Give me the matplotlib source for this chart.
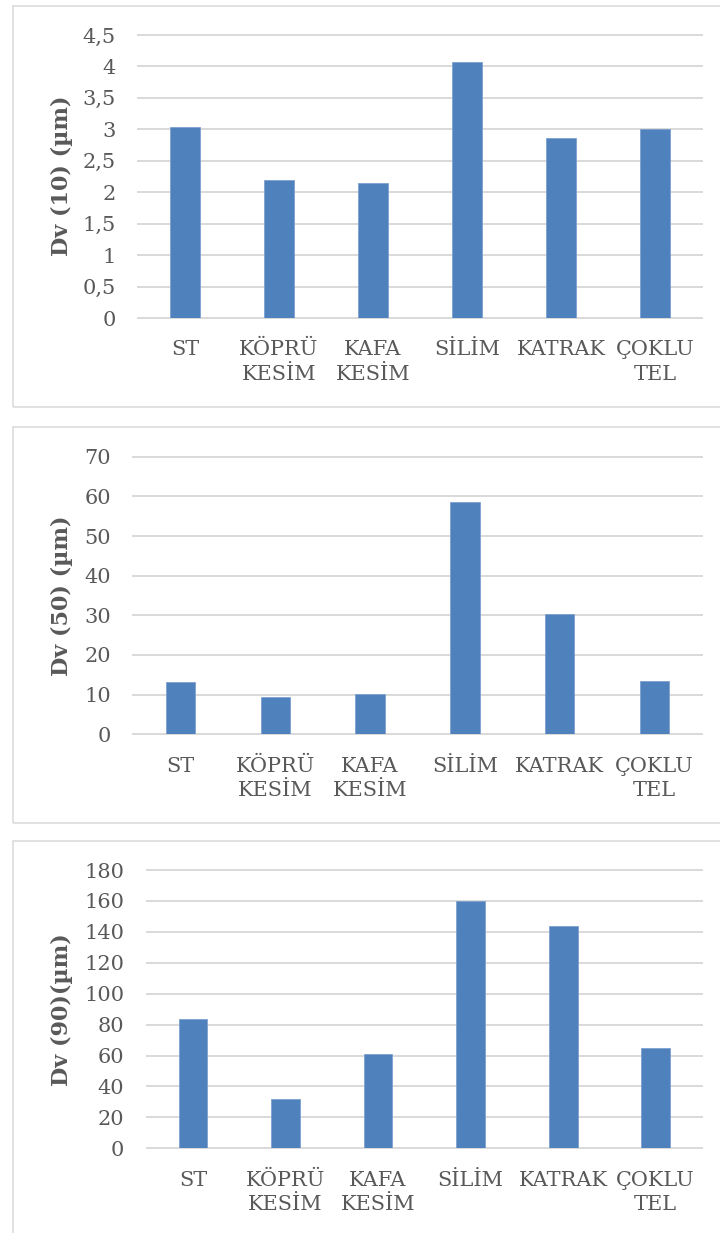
import matplotlib
matplotlib.use("Agg")
import matplotlib.pyplot as plt
from matplotlib.patches import Rectangle
from matplotlib.ticker import FuncFormatter

# Sample groups (x axis)
categories = ["ST", "KÖPRÜ\nKESİM", "KAFA\nKESİM", "SİLİM", "KATRAK", "ÇOKLU\nTEL"]

# Particle size distribution values (µm)
dv10 = [3.03, 2.19, 2.14, 4.07, 2.87, 3.00]
dv50 = [13.1, 9.4, 10.1, 58.7, 30.3, 13.4]
dv90 = [83.6, 31.7, 61.0, 160.0, 143.8, 64.7]

ylabels = ["Dv (10) (µm)", "Dv (50) (µm)", "Dv (90)(µm)"]
y_ticks = [
    [0, 0.5, 1, 1.5, 2, 2.5, 3, 3.5, 4, 4.5],
    [0, 10, 20, 30, 40, 50, 60, 70],
    [0, 20, 40, 60, 80, 100, 120, 140, 160, 180],
]

W, H = 720, 1233
BAR = "#4F81BD"
GRID = "#D9D9D9"
TEXT = "#595959"
FONT = "DejaVu Serif"

fig = plt.figure(figsize=(W / 100, H / 100), dpi=100)
fig.patch.set_facecolor("white")

# Pixel layout of each panel: (frame top, frame bottom, plot left, plot top, plot bottom, ylabel centre y)
panels = [
    (6, 407, 138, 35, 318, 176),
    (427, 823, 133, 456.7, 734.3, 596),
    (841, 1245, 146.7, 870, 1148.3, 1010),
]
plot_right = 702

series = [dv10, dv50, dv90]


def fmt(v, _pos):
    s = ("%g" % v)
    return s.replace(".", ",")


for (ftop, fbot, left, top, bottom, lab_y), vals, ticks, ylab in zip(panels, series, y_ticks, ylabels):
    # chart frame
    fig.patches.append(Rectangle((13 / W, 1 - fbot / H), (W + 10 - 13) / W, (fbot - ftop) / H,
                                 transform=fig.transFigure, fill=False,
                                 edgecolor=GRID, linewidth=1.1, zorder=0))

    ax = fig.add_axes([left / W, 1 - bottom / H, (plot_right - left) / W, (bottom - top) / H])
    x = list(range(len(categories)))
    ax.bar(x, vals, width=0.31, color=BAR, edgecolor="#7EA1CF", linewidth=0.6, zorder=3)

    ax.set_xlim(-0.5, len(categories) - 0.5)
    ax.set_ylim(ticks[0], ticks[-1])
    ax.set_yticks(ticks)
    ax.yaxis.set_major_formatter(FuncFormatter(fmt))
    ax.set_xticks(x)
    ax.set_xticklabels(categories, linespacing=1.38)

    ax.grid(axis="y", color=GRID, linewidth=1.4, zorder=0, clip_on=False)
    ax.set_axisbelow(True)
    for s in ax.spines.values():
        s.set_visible(False)
    ax.tick_params(axis="both", length=0, labelsize=15, labelcolor=TEXT)
    ax.tick_params(axis="y", pad=16)
    ax.tick_params(axis="x", pad=16)
    for t in ax.get_xticklabels() + ax.get_yticklabels():
        t.set_fontfamily(FONT)

    fig.text(62 / W, 1 - lab_y / H, ylab, rotation=90, ha="center", va="center",
             fontsize=16, fontweight="bold", color=TEXT, family=FONT)

fig.savefig("out.png", dpi=100, facecolor="white")
